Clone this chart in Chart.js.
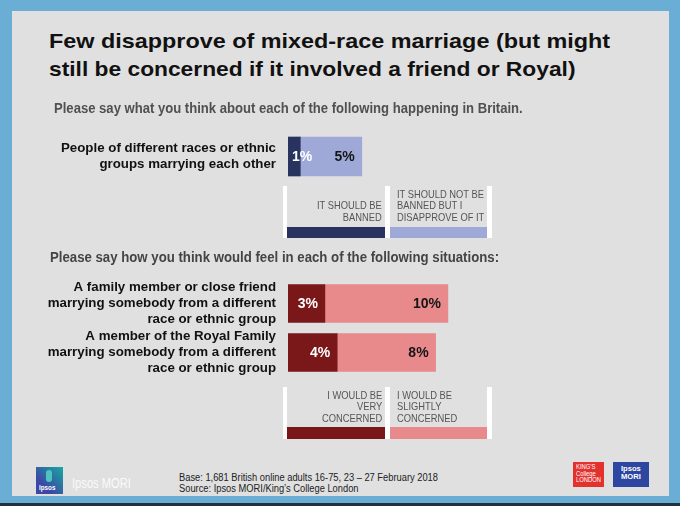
<!DOCTYPE html>
<html>
<head>
<meta charset="utf-8">
<script src="https://cdn.jsdelivr.net/npm/chart.js@4.4.1/dist/chart.umd.min.js"></script>
<style>
  body { margin: 0; width: 680px; height: 506px; background: #6aaed6; position: relative; overflow: hidden;
         font-family: "Liberation Sans", Arial, sans-serif; }
  .abs { position: absolute; white-space: nowrap; }
  #panel { left: 12px; top: 11px; width: 657px; height: 485px; background: #e0e0e0; }
  #bottomLine { left: 0; top: 503px; width: 680px; height: 3px; background: #22313d; }
  canvas { position: absolute; left: 0; }
  .box { position: absolute; }
</style>
</head>
<body>
<div id="panel" class="abs"></div>
<div id="bottomLine" class="abs"></div>
<canvas id="topChart" width="680" height="123" style="top:95px"></canvas>
<canvas id="bottomChart" width="680" height="178" style="top:239px"></canvas>

<script>
// ---- data ----
var topCategories = [['People of different races or ethnic', 'groups marrying each other']];
var bannedValues = [1];
var disapproveValues = [5];
var topLegend = [['IT SHOULD BE', 'BANNED'], ['IT SHOULD NOT BE', 'BANNED  BUT I', 'DISAPPROVE OF IT']];

var bottomCategories = [
    ['A family member or close friend', 'marrying somebody from a different', 'race or ethnic group'],
    ['A member of the Royal Family', 'marrying somebody from a different', 'race or ethnic group']
];
var veryConcernedValues = [3, 4];
var slightlyConcernedValues = [10, 8];
var bottomLegend = [['I WOULD BE', 'VERY', 'CONCERNED'], ['I WOULD BE', 'SLIGHTLY', 'CONCERNED']];

var axisMax = 30;

var navy = '#28335f', periwinkle = '#9fa9d8';
var darkRed = '#7a1719', pink = '#e88a8b';
var FONT = '"Liberation Sans", Arial, sans-serif';

// put a text block so that its first line sits on a given baseline
function place(lines, x, baseline, opts) {
    var d = document.createElement('div');
    d.className = 'abs';
    d.innerHTML = [].concat(lines).join('<br>');
    var size = opts.size, lh = opts.lh || size * 1.15;
    d.style.fontSize = size + 'px';
    d.style.lineHeight = lh + 'px';
    d.style.fontWeight = opts.bold ? 'bold' : 'normal';
    d.style.color = opts.color || '#111';
    d.style.textAlign = opts.align === 'right' ? 'right' : 'left';
    document.body.appendChild(d);
    var w = d.offsetWidth;
    var s = opts.width ? opts.width / w : (opts.scale || 1);
    d.style.transformOrigin = 'left top';
    d.style.transform = 'scaleX(' + s + ')';
    d.style.left = (opts.align === 'right' ? x - w * s : x) + 'px';
    d.style.top = (baseline - (lh / 2 + 0.3465 * size)) + 'px';
    return s;
}

function rect(x, y, w, h, bg) {
    var d = document.createElement('div');
    d.className = 'box';
    d.style.left = x + 'px'; d.style.top = y + 'px';
    d.style.width = w + 'px'; d.style.height = h + 'px';
    d.style.background = bg;
    document.body.appendChild(d);
    return d;
}

// headings
place('Few disapprove of mixed-race marriage (but might', 49, 48, {size: 21, bold: true, width: 561});
place('still be concerned if it involved a friend or Royal)', 49, 76, {size: 21, bold: true, width: 526});
place('Please say what you think about each of the following happening in Britain.', 54, 113,
      {size: 14, bold: true, color: '#505050', width: 469});
place('Please say how you think would feel in each of the following situations:', 50, 262,
      {size: 14, bold: true, color: '#444', width: 449});

// legends
function legend(top, barTop, barH, lines, colors, lastBase) {
    rect(283, top, 4, barTop + barH - top, '#fff');
    rect(385, top, 5, barTop + barH - top, '#fff');
    rect(487, top, 5, barTop + barH - top, '#fff');
    rect(287, barTop, 98, barH, colors[0]);
    rect(390, barTop, 97, barH, colors[1]);
    var lh = 11.8;
    place(lines[0], 382, lastBase - (lines[0].length - 1) * lh, {size: 11, lh: lh, color: '#555', align: 'right', scale: 0.85});
    place(lines[1], 397, lastBase - (lines[1].length - 1) * lh, {size: 11, lh: lh, color: '#555', scale: 0.85});
}
legend(186, 227, 11, topLegend, [navy, periwinkle], 222);
legend(387, 427, 12, bottomLegend, [darkRed, pink], 423);

// footer
var fs = place('Base: 1,681 British online adults 16-75, 23 \u2013 27 February 2018', 179, 481,
               {size: 10, color: '#222', width: 259});
place('Source: Ipsos MORI/King\u2019s College London', 179, 492, {size: 10, color: '#222', scale: fs});

rect(36, 467, 27, 27, 'linear-gradient(45deg, #3b48a6 30%, #19a8a0 100%)');
var pill = rect(46, 470, 6, 12, '#4fc3c0');
pill.style.borderRadius = '3px';
place('Ipsos', 38.5, 490, {size: 7, bold: true, color: '#fff', scale: 0.9});
place('Ipsos MORI', 72, 488, {size: 14, color: '#fafafa', width: 59});

rect(573, 462, 31, 25, '#e3312d');
place(['KING\u2019S', 'College', 'LONDON'], 576, 470, {size: 6.5, lh: 6.5, color: '#fff', scale: 0.9});
rect(613, 462, 36, 25, '#2f46a0');
place(['Ipsos', 'MORI'], 621, 472, {size: 8, lh: 8.5, bold: true, color: '#fff', scale: 0.95});

// bar value labels
var barLabels = {
    id: 'barLabels',
    afterDatasetsDraw: function (chart) {
        var ctx = chart.ctx;
        ctx.save();
        ctx.font = 'bold 14px ' + FONT;
        ctx.textAlign = 'right';
        ctx.textBaseline = 'middle';
        chart.data.datasets.forEach(function (ds, i) {
            chart.getDatasetMeta(i).data.forEach(function (bar, j) {
                var p = bar.getProps(['x', 'y', 'base'], true);
                var txt = ds.data[j] + '%';
                var w = ctx.measureText(txt).width;
                ctx.fillStyle = ds.labelColor;
                ctx.fillText(txt, Math.max(p.x - 7, p.base + 4 + w), p.y + 1);
            });
        });
        ctx.restore();
    }
};

// padV: room above/below the plot so the multi-line tick labels don't squeeze it
function makeChart(id, labels, first, second, colors, thickness, padV) {
    return new Chart(document.getElementById(id).getContext('2d'), {
        type: 'bar',
        data: {
            labels: labels,
            datasets: [
                { data: first, backgroundColor: colors[0], labelColor: '#fff', barThickness: thickness },
                { data: second, backgroundColor: colors[1], labelColor: '#151515', barThickness: thickness }
            ]
        },
        options: {
            indexAxis: 'y',
            responsive: false,
            animation: false,
            layout: { padding: { left: 0, right: 680 - 288 - axisMax * 12.3, top: padV, bottom: padV } },
            plugins: { legend: { display: false }, tooltip: { enabled: false } },
            scales: {
                x: { stacked: true, display: false, min: 0, max: axisMax },
                y: {
                    stacked: true,
                    grid: { display: false, drawTicks: false },
                    border: { display: false },
                    ticks: {
                        autoSkip: false,
                        padding: 12,
                        color: '#111',
                        font: { family: FONT, size: 13.3, weight: 'bold', lineHeight: 1.2 }
                    },
                    afterFit: function (scale) { scale.width = 288; }
                }
            }
        },
        plugins: [barLabels]
    });
}

makeChart('topChart', topCategories, bannedValues, disapproveValues, [navy, periwinkle], 39, 30);
makeChart('bottomChart', bottomCategories, veryConcernedValues, slightlyConcernedValues, [darkRed, pink], 38, 40);
</script>
</body>
</html>
